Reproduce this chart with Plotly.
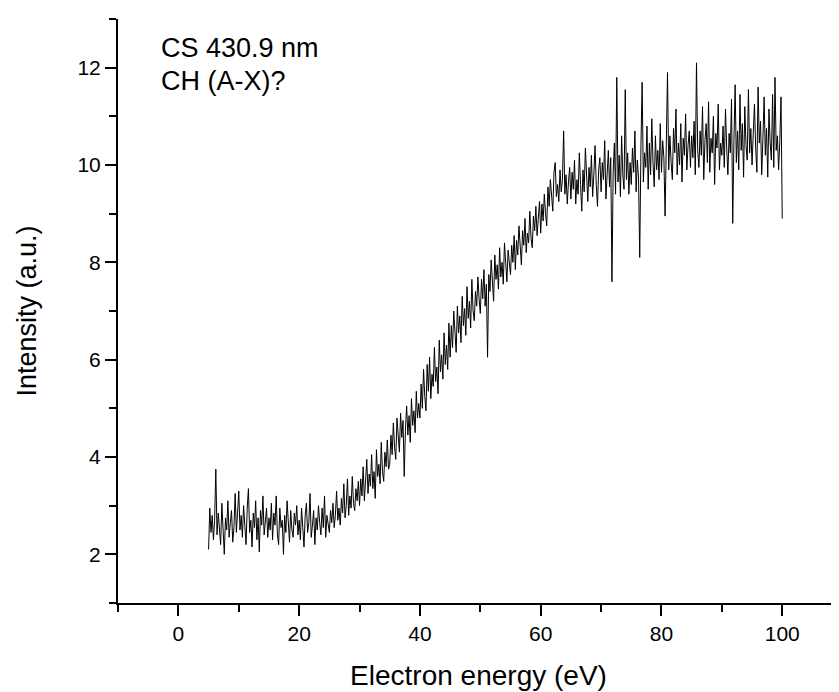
import numpy as np
import plotly.graph_objects as go

# energy grid of the scan (eV), 0.2 eV steps
energy = np.round(np.arange(5.0, 100.001, 0.2), 2)

# intensity, one row per 5 eV (25 samples each)
int_05 = [2.10, 2.95, 2.45, 2.80, 2.30, 2.70, 3.75, 2.40, 2.85, 2.55, 2.20, 3.05, 2.60,
          2.00, 2.75, 2.50, 3.10, 2.35, 2.65, 2.90, 2.25, 2.55, 3.25, 2.45, 2.85]
int_10 = [3.30, 2.50, 2.80, 2.35, 3.00, 2.60, 2.20, 2.95, 3.35, 2.45, 2.70, 2.15, 2.85,
          2.55, 3.10, 2.30, 2.75, 2.05, 2.90, 2.60, 3.20, 2.40, 2.70, 2.95, 2.35]
int_15 = [2.75, 2.50, 3.05, 2.30, 2.85, 2.60, 3.20, 2.40, 2.20, 2.95, 2.55, 2.70, 2.00,
          2.80, 2.45, 3.10, 2.65, 2.25, 2.90, 2.50, 2.35, 2.85, 2.60, 3.00, 2.40]
int_20 = [2.70, 2.30, 2.95, 2.55, 2.15, 2.80, 3.05, 2.45, 2.65, 3.25, 2.35, 2.60, 2.90,
          2.20, 2.75, 2.50, 3.00, 2.65, 2.40, 2.95, 2.55, 3.20, 2.35, 2.80, 2.60]
int_25 = [2.45, 2.90, 2.65, 3.05, 2.55, 2.80, 3.30, 2.70, 2.95, 2.60, 3.15, 2.85, 3.45,
          2.75, 3.00, 3.55, 2.80, 3.20, 2.95, 3.60, 3.05, 2.90, 3.35, 3.10, 3.50]
int_30 = [3.00, 3.55, 3.20, 3.80, 3.10, 3.45, 3.95, 3.25, 3.65, 3.40, 4.05, 3.35, 3.70,
          3.15, 4.15, 3.60, 3.85, 3.45, 4.30, 3.70, 3.50, 4.10, 3.80, 4.35, 3.75]
int_35 = [3.85, 4.45, 4.05, 4.70, 4.20, 3.95, 4.80, 4.35, 4.10, 4.90, 4.40, 4.75, 3.60,
          4.55, 5.05, 4.45, 4.85, 4.30, 5.20, 4.65, 4.95, 4.50, 5.35, 4.80, 5.10]
int_40 = [4.80, 5.50, 5.00, 5.80, 5.25, 4.95, 5.90, 5.35, 6.05, 5.20, 5.70, 5.45, 6.25,
          5.55, 5.85, 5.30, 6.40, 5.75, 6.10, 5.60, 6.55, 5.90, 6.30, 5.80, 6.75]
int_45 = [6.05, 6.70, 6.25, 7.00, 6.45, 6.15, 7.10, 6.55, 6.90, 6.35, 7.30, 6.70, 7.05,
          6.50, 7.50, 6.85, 7.20, 6.65, 7.65, 7.00, 6.80, 7.40, 7.10, 7.70, 7.25]
int_50 = [6.95, 7.65, 7.25, 7.85, 7.10, 7.55, 6.05, 7.75, 7.40, 8.05, 7.50, 7.20, 8.15,
          7.65, 7.95, 7.45, 8.30, 7.70, 8.00, 7.55, 8.40, 7.85, 7.60, 8.25, 7.95]
int_55 = [7.75, 8.35, 8.00, 8.55, 7.85, 8.45, 8.15, 8.75, 8.25, 7.95, 8.65, 8.35, 8.90,
          8.20, 8.60, 8.40, 9.05, 8.50, 8.30, 8.95, 8.65, 9.15, 8.55, 8.85, 9.25]
int_60 = [8.60, 9.20, 8.85, 9.40, 9.00, 8.75, 9.55, 9.15, 9.70, 9.30, 9.05, 9.85, 10.05,
          9.35, 9.60, 9.25, 9.90, 9.45, 9.70, 10.70, 9.40, 9.80, 9.20, 9.65, 9.95]
int_65 = [9.30, 9.85, 9.50, 10.10, 9.20, 9.70, 9.40, 10.25, 9.60, 9.05, 9.90, 9.45, 10.35,
          9.75, 9.25, 9.95, 9.55, 10.20, 9.35, 9.80, 10.40, 9.60, 9.15, 9.90, 10.15]
int_70 = [9.45, 10.05, 9.70, 10.50, 9.30, 9.90, 10.30, 9.55, 10.15, 7.60, 9.85, 10.45, 9.40,
          11.80, 9.65, 10.20, 9.35, 10.60, 9.80, 9.50, 11.55, 9.70, 10.25, 9.40, 10.05]
int_75 = [9.60, 10.35, 9.85, 10.70, 9.45, 10.10, 9.75, 8.10, 10.40, 11.70, 9.65, 10.25, 9.95,
          10.80, 9.50, 10.45, 9.80, 10.95, 10.05, 9.55, 10.60, 9.90, 10.30, 9.70, 10.85]
int_80 = [9.85, 10.50, 10.15, 8.95, 10.35, 11.90, 9.90, 10.60, 10.05, 9.70, 10.75, 10.25, 11.15,
          9.80, 10.45, 10.00, 10.85, 9.65, 10.55, 10.20, 11.05, 9.90, 10.40, 10.70, 9.95]
int_85 = [10.60, 10.15, 10.90, 9.80, 12.10, 10.30, 9.95, 10.70, 10.20, 11.20, 9.70, 10.50, 10.85,
          10.05, 11.30, 9.85, 10.55, 10.25, 11.00, 9.60, 10.65, 10.35, 11.25, 9.90, 10.45]
int_90 = [10.20, 10.80, 9.95, 11.15, 10.35, 9.80, 10.65, 10.25, 11.35, 8.80, 10.50, 11.65, 10.05,
          10.70, 9.90, 11.45, 10.30, 10.85, 9.75, 11.20, 10.40, 10.10, 11.55, 10.25, 10.75]
int_95 = [10.00, 10.65, 11.25, 10.35, 9.85, 11.60, 10.45, 10.90, 9.80, 10.55, 11.40, 10.20, 10.75,
          9.75, 11.15, 10.45, 10.10, 11.45, 9.95, 11.80, 10.30, 10.60, 9.90, 10.50, 11.40]
int_100 = [8.90]

intensity = (int_05 + int_10 + int_15 + int_20 + int_25 + int_30 + int_35 + int_40
             + int_45 + int_50 + int_55 + int_60 + int_65 + int_70 + int_75 + int_80
             + int_85 + int_90 + int_95 + int_100)

label_lines = ["CS 430.9 nm", "CH (A-X)?"]

FONT = "Liberation Sans, Arial, sans-serif"

fig = go.Figure()
fig.add_trace(go.Scatter(x=energy, y=intensity, mode="lines",
                         line=dict(color="black", width=1), showlegend=False))

for txt, ypos in zip(label_lines, [12.40, 11.73]):
    fig.add_annotation(x=-3.25, y=ypos, xref="x", yref="y", xanchor="left", yanchor="middle",
                       text=txt, showarrow=False, align="left",
                       font=dict(family=FONT, size=27, color="black"))

axis_common = dict(showline=True, linecolor="black", linewidth=2, ticks="outside",
                   ticklen=11, tickwidth=2, tickcolor="black", showgrid=False, zeroline=False,
                   mirror=False, automargin=False,
                   tickfont=dict(family=FONT, size=21, color="black"))

fig.update_xaxes(range=[-10, 109.4], tick0=0, dtick=20,
                 minor=dict(ticks="outside", ticklen=7, tickwidth=2, tickcolor="black", dtick=10, tick0=0),
                 title=dict(text="Electron energy (eV)", font=dict(family=FONT, size=28, color="black"),
                            standoff=21),
                 **axis_common)
fig.update_yaxes(range=[1, 13], tick0=0, dtick=2,
                 minor=dict(ticks="outside", ticklen=7, tickwidth=2, tickcolor="black", dtick=1, tick0=0),
                 title=dict(text="Intensity (a.u.)", font=dict(family=FONT, size=27, color="black"),
                            standoff=33),
                 **axis_common)

# the page body keeps an 8 px margin, so the figure is 8 px smaller each way
fig.update_layout(width=831, height=684, margin=dict(l=110, r=0, t=11, b=89),
                  plot_bgcolor="white", paper_bgcolor="white")

fig.write_html("out.html")
